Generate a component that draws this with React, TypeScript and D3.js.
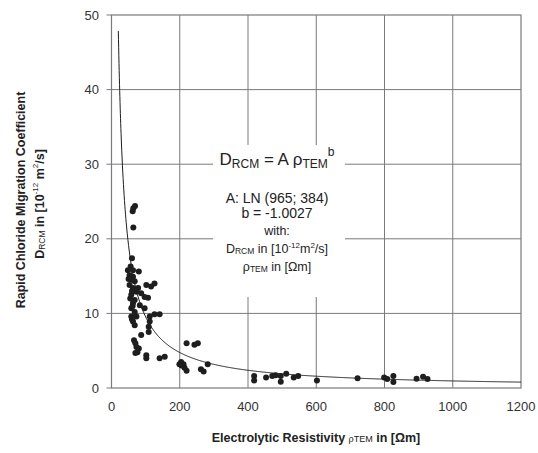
import { useEffect, useRef } from 'react';
import * as d3 from 'd3';

// measured points: electrolytic resistivity [Ωm] vs D_RCM [1e-12 m2/s]
const rhoValues = [
  64, 62, 69, 64,
  60, 56, 48, 63, 80, 53, 63, 58, 68, 53, 102, 116, 126, 63, 78, 73, 87, 58, 97, 107,
  68, 63, 83, 58, 97, 68, 58, 73, 112, 126, 141, 63, 112, 68, 109, 109, 87, 66, 70, 73,
  80, 76, 102, 102, 141, 156, 50, 60, 55, 62, 60, 70,
  220, 243, 253, 199, 204, 211, 214, 220, 205, 262, 270, 282,
  418, 418, 453, 471, 481, 496, 496, 512, 534, 547, 602, 721, 799, 808, 826, 826, 894, 913, 926,
];
const dValues = [
  24.1, 23.7, 24.4, 21.5,
  17.4, 16.3, 15.8, 15.8, 15.6, 15.1, 14.9, 14.5, 14.3, 13.8, 13.8, 13.6, 14.0, 13.4, 13.4, 12.9, 12.7, 12.5, 12.2, 12.1,
  11.8, 11.4, 11.1, 10.7, 10.7, 10.2, 9.6, 9.6, 9.6, 9.9, 9.9, 8.9, 8.9, 8.4, 8.2, 7.5, 7.1, 6.4, 6.0, 5.5,
  5.3, 4.8, 4.4, 4.0, 4.0, 4.2, 14.6, 13.0, 12.0, 11.0, 9.2, 4.7,
  6.0, 5.8, 6.0, 3.2, 3.5, 3.2, 2.7, 2.3, 3.0, 2.5, 2.2, 3.2,
  1.6, 1.0, 1.4, 1.6, 1.7, 1.6, 0.85, 1.9, 1.4, 1.6, 1.0, 1.3, 1.4, 1.2, 1.6, 0.8, 1.25, 1.5, 1.2,
];

// fitted power law D = A * rho^b
const fitA = 965;
const fitB = -1.0027;
const fitRhoStart = 20;
const fitRhoEnd = 1200;

const xTicks = [0, 200, 400, 600, 800, 1000, 1200];
const yTicks = [0, 10, 20, 30, 40, 50];

const FONT = '"Liberation Sans", Arial, sans-serif';

export default function App() {
  const svgRef = useRef<SVGSVGElement>(null);
  const width = 538;
  const height = 453;

  useEffect(() => {
    if (!svgRef.current) return;
    const svg = d3.select(svgRef.current);
    svg.selectAll('*').remove();

    const x = d3.scaleLinear().domain([0, 1200]).range([111.5, 521]);
    const y = d3.scaleLinear().domain([0, 50]).range([388, 15]);

    const gridColor = '#7a7a7a';
    const ink = '#1e1e1e';

    svg.append('rect').attr('width', width).attr('height', height).attr('fill', '#fff');

    // grid
    svg.append('g')
      .selectAll('line')
      .data(yTicks.slice(1, -1))
      .join('line')
      .attr('x1', x(0)).attr('x2', x(1200))
      .attr('y1', d => y(d)).attr('y2', d => y(d))
      .attr('stroke', gridColor).attr('stroke-width', 1);

    svg.append('g')
      .selectAll('line')
      .data(xTicks.slice(1, -1))
      .join('line')
      .attr('x1', d => x(d)).attr('x2', d => x(d))
      .attr('y1', y(0)).attr('y2', y(50))
      .attr('stroke', gridColor).attr('stroke-width', 1);

    svg.append('rect')
      .attr('x', x(0)).attr('y', y(50))
      .attr('width', x(1200) - x(0)).attr('height', y(0) - y(50))
      .attr('fill', 'none').attr('stroke', gridColor).attr('stroke-width', 1.2);

    // y axis ticks + labels
    const yAxis = svg.append('g');
    yAxis.selectAll('line')
      .data(yTicks)
      .join('line')
      .attr('x1', x(0) - 5).attr('x2', x(0))
      .attr('y1', d => y(d)).attr('y2', d => y(d))
      .attr('stroke', gridColor);
    yAxis.selectAll('text')
      .data(yTicks)
      .join('text')
      .attr('x', 99).attr('y', d => y(d)).attr('dy', '0.36em')
      .attr('text-anchor', 'end')
      .style('font-family', FONT).style('font-size', '13px').style('fill', '#333')
      .text(d => d);

    svg.append('g')
      .selectAll('text')
      .data(xTicks)
      .join('text')
      .attr('x', d => x(d)).attr('y', 411)
      .attr('text-anchor', 'middle')
      .style('font-family', FONT).style('font-size', '13px').style('fill', '#333')
      .text(d => d);

    // fitted curve
    const fitPts = d3.range(fitRhoStart, fitRhoEnd + 1, 2).map(r => [r, fitA * Math.pow(r, fitB)] as [number, number]);
    svg.append('path')
      .datum(fitPts)
      .attr('fill', 'none')
      .attr('stroke', ink)
      .attr('stroke-width', 1)
      .attr('d', d3.line<[number, number]>().x(d => x(d[0])).y(d => y(d[1])).curve(d3.curveMonotoneX));

    // points
    svg.append('g')
      .selectAll('circle')
      .data(rhoValues.map((r, i) => [r, dValues[i]]))
      .join('circle')
      .attr('cx', d => x(d[0])).attr('cy', d => y(d[1]))
      .attr('r', 3)
      .attr('fill', ink);

    // annotation box
    svg.append('rect')
      .attr('x', 213).attr('y', 145).attr('width', 132).attr('height', 152)
      .attr('fill', '#fff');

    const ann = svg.append('g').style('font-family', FONT).style('fill', '#222').attr('text-anchor', 'middle');
    const cx = 277;

    const f = ann.append('text').attr('x', cx).attr('y', 165).style('font-size', '17px');
    f.append('tspan').text('D');
    f.append('tspan').attr('dy', 3).style('font-size', '12px').text('RCM');
    f.append('tspan').attr('dy', -3).text(' = A \u03c1');
    f.append('tspan').attr('dy', 3).style('font-size', '12px').text('TEM');
    f.append('tspan').attr('dy', -12).style('font-size', '12px').text('b');

    ann.append('text').attr('x', cx).attr('y', 203).style('font-size', '14px').text('A: LN (965; 384)');
    ann.append('text').attr('x', cx).attr('y', 218).style('font-size', '14px').text('b = -1.0027');
    ann.append('text').attr('x', cx).attr('y', 235).style('font-size', '12.5px').text('with:');

    const l1 = ann.append('text').attr('x', cx).attr('y', 253).style('font-size', '12.5px');
    l1.append('tspan').text('D');
    l1.append('tspan').attr('dy', 1).style('font-size', '8.5px').text('RCM');
    l1.append('tspan').attr('dy', -1).text(' in [10');
    l1.append('tspan').attr('dy', -5).style('font-size', '8px').text('-12');
    l1.append('tspan').attr('dy', 5).text('m');
    l1.append('tspan').attr('dy', -5).style('font-size', '8px').text('2');
    l1.append('tspan').attr('dy', 5).text('/s]');

    const l2 = ann.append('text').attr('x', cx).attr('y', 271).style('font-size', '12.5px');
    l2.append('tspan').text('\u03c1');
    l2.append('tspan').attr('dy', 1).style('font-size', '8.5px').text('TEM');
    l2.append('tspan').attr('dy', -1).text(' in [\u03a9m]');

    // axis titles
    const yt = svg.append('g').style('font-family', FONT).style('fill', '#222').style('font-weight', 'bold');
    yt.append('text')
      .attr('transform', 'translate(25,200) rotate(-90)')
      .attr('text-anchor', 'middle')
      .style('font-size', '12.5px')
      .text('Rapid Chloride Migration Coefficient');
    const yl2 = yt.append('text')
      .attr('transform', 'translate(44,204) rotate(-90)')
      .attr('text-anchor', 'middle')
      .style('font-size', '12.5px');
    yl2.append('tspan').text('D');
    yl2.append('tspan').attr('dy', 1).style('font-size', '8.5px').style('font-weight', 'normal').text('RCM');
    yl2.append('tspan').attr('dy', -1).text(' in [10');
    yl2.append('tspan').attr('dy', -6).style('font-size', '8px').style('font-weight', 'normal').text('-12');
    yl2.append('tspan').attr('dy', 6).text(' m');
    yl2.append('tspan').attr('dy', -6).style('font-size', '8px').style('font-weight', 'normal').text('2');
    yl2.append('tspan').attr('dy', 6).text('/s]');

    const xt = svg.append('text')
      .attr('x', 316).attr('y', 442)
      .attr('text-anchor', 'middle')
      .style('font-family', FONT).style('font-size', '12.5px').style('font-weight', 'bold').style('fill', '#222');
    xt.append('tspan').text('Electrolytic Resistivity ');
    xt.append('tspan').style('font-size', '9px').style('font-weight', 'normal').text('\u03c1TEM');
    xt.append('tspan').text('  in [\u03a9m]');
  }, []);

  return (
    <svg
      ref={svgRef}
      width={width}
      height={height}
      style={{ position: 'absolute', left: 0, top: 0, display: 'block' }}
    />
  );
}
